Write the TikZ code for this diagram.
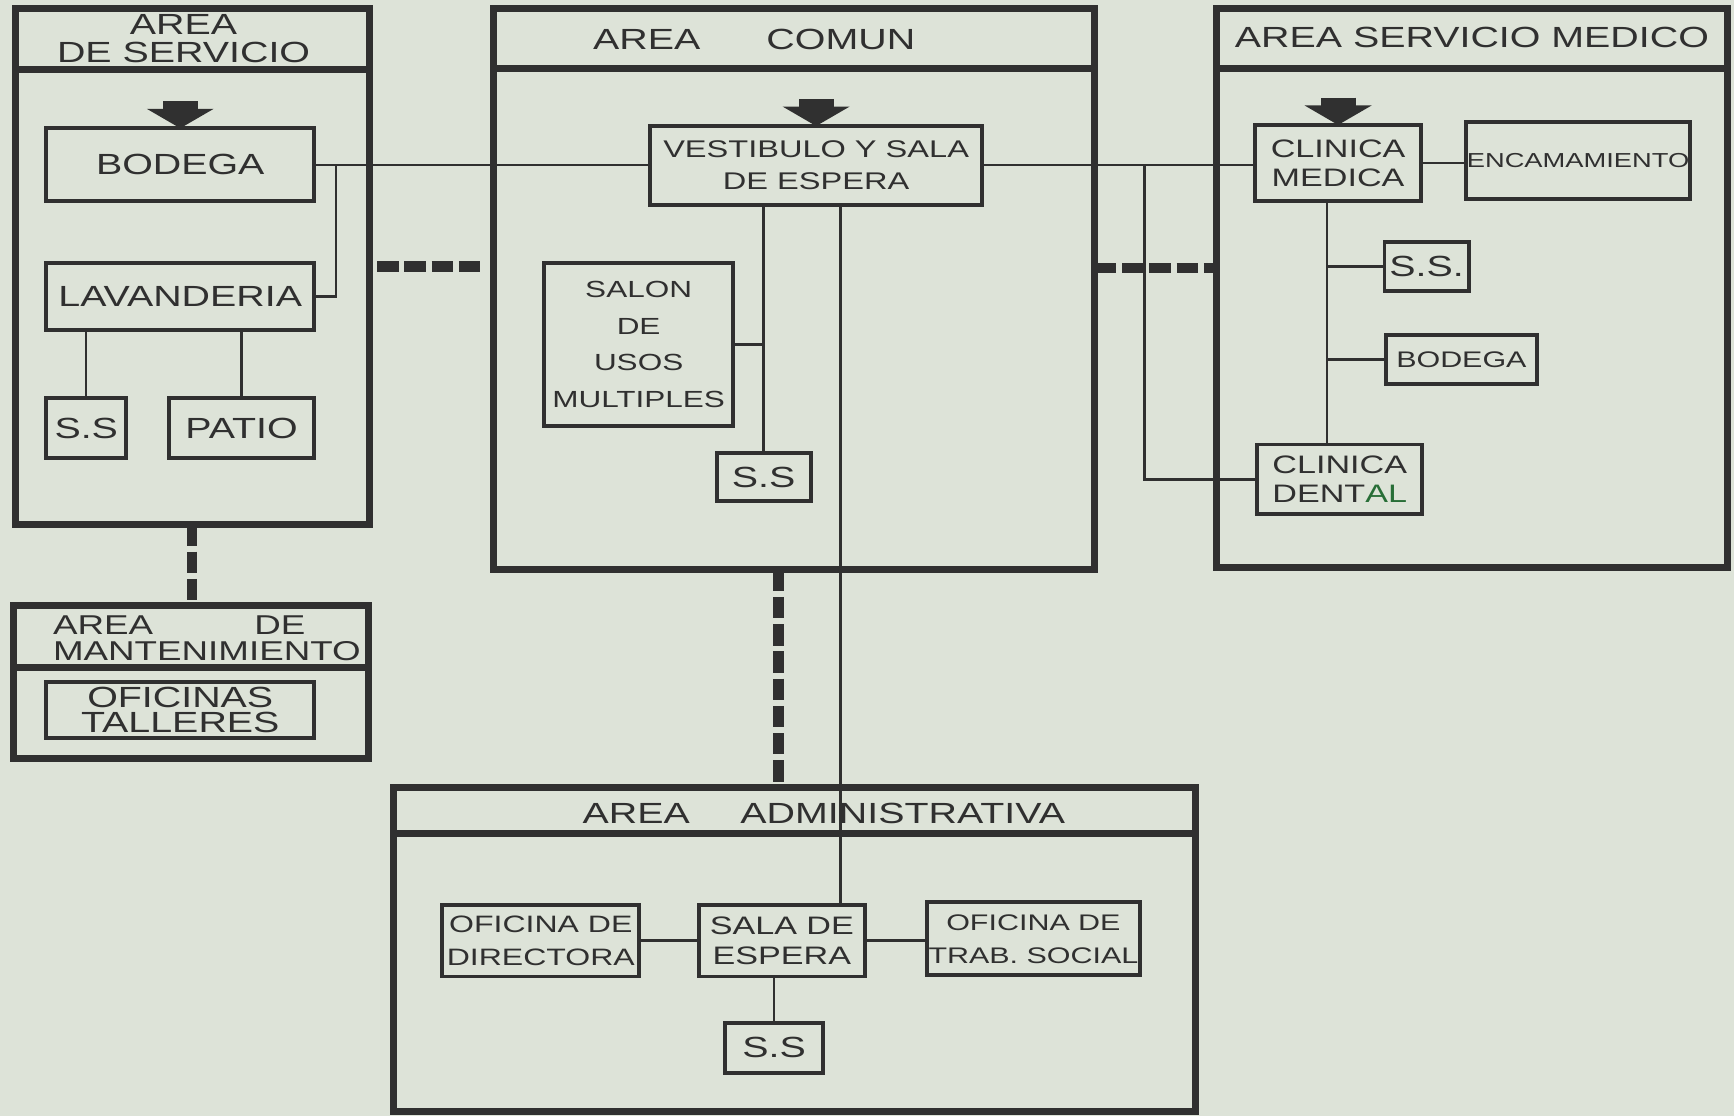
\documentclass[tikz,border=0pt]{standalone}
\usepackage{fontspec}
\setmainfont[FakeStretch=1.35]{Liberation Sans}
\usetikzlibrary{arrows.meta}
\definecolor{paper}{RGB}{221,227,216}
\definecolor{ink}{RGB}{48,48,48}
\definecolor{marker}{RGB}{40,110,55}

\begin{document}
\begin{tikzpicture}[
    x=0.01cm, y=-0.01cm,
    every node/.style={inner sep=0pt, outer sep=0pt, align=center, text=ink, font=\fontsize{7.5}{8.5}\selectfont},
    area/.style={draw=ink, line width=1.8pt},
    room/.style={draw=ink, line width=1pt},
    link/.style={draw=ink, line width=0.6pt},
    dashlink/.style={draw=ink, line width=2.6pt, dash pattern=on 5.5pt off 1.5pt},
    entry/.style={draw=ink, line width=9pt, -{Triangle[width=17pt,length=5pt]}}
]

\path[use as bounding box, fill=paper] (0,0) rectangle (1568,1009);

\node[area, minimum width=3.2cm, minimum height=4.66cm] (servicio) at (174,241) {};
\node[area, minimum width=5.44cm, minimum height=5.07cm] (comun) at (718,261.5) {};
\node[area, minimum width=4.62cm, minimum height=5.05cm] (medico) at (1331,260.5) {};
\node[area, minimum width=3.21cm, minimum height=1.38cm] (manten) at (172.5,617) {};
\node[area, minimum width=7.25cm, minimum height=2.93cm] (admin) at (718.5,858.5) {};

\foreach \a/\h in {servicio/0.55cm, comun/0.54cm, medico/0.54cm, manten/0.56cm, admin/0.42cm}
    \draw[area] ([yshift=-\h]\a.north west) -- ([yshift=-\h]\a.north east);

\node[font=\fontsize{7.5}{7}\selectfont] (servicioT) at (166,35) {AREA\\DE SERVICIO};
\node (comunT) at (682,36) {AREA\hspace{17pt}COMUN};
\node (medicoT) at (1331,34) {AREA SERVICIO MEDICO};
\node[anchor=west, align=left, font=\fontsize{7}{6.8}\selectfont] (mantenT) at (48,577) {AREA\hspace{26pt}DE\\MANTENIMIENTO};
\node (adminT) at (745,736) {AREA\hspace{13pt}ADMINISTRATIVA};

\node[room, minimum width=2.42cm, minimum height=0.66cm] (bodegaS) at (163,149) {BODEGA};
\node[room, minimum width=2.42cm, minimum height=0.6cm] (lavanderia) at (163,268) {LAVANDERIA};
\node[room, minimum width=0.72cm, minimum height=0.54cm] (ssS) at (78,387) {S.S};
\node[room, minimum width=1.31cm, minimum height=0.54cm] (patio) at (218.5,387) {PATIO};

\node[room, minimum width=3cm, minimum height=0.71cm, font=\fontsize{6.2}{8.2}\selectfont] (vestibulo) at (738,149.5) {VESTIBULO Y SALA\\DE ESPERA};
\node[room, minimum width=1.71cm, minimum height=1.47cm, font=\fontsize{6}{9.4}\selectfont] (salon) at (577.5,311.5) {SALON\\DE\\USOS\\MULTIPLES};
\node[room, minimum width=0.85cm, minimum height=0.43cm] (ssC) at (690.5,431.5) {S.S};

\node[room, minimum width=1.5cm, minimum height=0.69cm, font=\fontsize{6.5}{7.4}\selectfont] (medica) at (1210,147.5) {CLINICA\\MEDICA};
\node[room, minimum width=2.02cm, minimum height=0.7cm, font=\fontsize{5.2}{6}\selectfont] (encam) at (1427,145) {ENCAMAMIENTO};
\node[room, minimum width=0.76cm, minimum height=0.44cm] (ssM) at (1290,241) {S.S.};
\node[room, minimum width=1.37cm, minimum height=0.44cm, font=\fontsize{5.8}{7}\selectfont] (bodegaM) at (1321.5,325) {BODEGA};
\node[room, minimum width=1.49cm, minimum height=0.63cm, font=\fontsize{6.5}{7.4}\selectfont] (dental) at (1211.5,433.5) {CLINICA\\DENT{\color{marker}AL}};

\node[room, minimum width=2.42cm, minimum height=0.5cm, font=\fontsize{7.5}{6.5}\selectfont] (talleres) at (163,642) {OFICINAS\\TALLERES};

\node[room, minimum width=1.78cm, minimum height=0.65cm, font=\fontsize{6.1}{8.5}\selectfont] (directora) at (489,850.5) {OFICINA DE\\DIRECTORA};
\node[room, minimum width=1.5cm, minimum height=0.65cm, font=\fontsize{6.5}{7.6}\selectfont] (espera) at (707,850.5) {SALA DE\\ESPERA};
\node[room, minimum width=1.93cm, minimum height=0.66cm, font=\fontsize{5.8}{8.5}\selectfont] (social) at (934.5,849) {OFICINA DE\\TRAB. SOCIAL};
\node[room, minimum width=0.88cm, minimum height=0.45cm] (ssA) at (700,947.5) {S.S};

\foreach \r in {bodegaS, vestibulo, medica}
    \draw[entry] ([yshift=7pt]\r.north) -- (\r.north);

\coordinate (sj) at (304,149);
\coordinate (mj) at (1035,149.5);
\coordinate (mt) at ([xshift=-1mm]medica.south);

\draw[link] (bodegaS.east) -- (bodegaS.east -| vestibulo.west);
\draw[link] (sj) |- (lavanderia.east);
\draw[link] (ssS.north) -- (ssS.north |- lavanderia.south);
\draw[link] (patio.north) -- (patio.north |- lavanderia.south);

\draw[link] (ssC.north) -- (ssC.north |- vestibulo.south);
\draw[link] (salon.east) -- (salon.east -| ssC.north);
\draw[link] ([xshift=5.3mm]espera.north) -- ([xshift=5.3mm]espera.north |- vestibulo.south);

\draw[link] (vestibulo.east) -- (vestibulo.east -| medica.west);
\draw[link] (mj) |- (dental.west);
\draw[link] (medica.east) -- (medica.east -| encam.west);
\draw[link] (mt) -- (mt |- dental.north);
\draw[link] (ssM.west) -- (ssM.west -| mt);
\draw[link] (bodegaM.west) -- (bodegaM.west -| mt);

\draw[link] (directora.east) -- (directora.east -| espera.west);
\draw[link] (espera.east) -- (espera.east -| social.west);
\draw[link] (ssA.north) -- (ssA.north |- espera.south);

\draw[dashlink, shorten <=2pt, shorten >=2pt] (servicio.east) -- (servicio.east -| comun.west);
\draw[dashlink] ([yshift=1.9mm]comun.east) -- ([yshift=1.9mm]comun.east -| medico.west);
\draw[dashlink] (servicio.south) -- (servicio.south |- manten.north);
\draw[dashlink] ([xshift=-1.4mm]comun.south) -- ([xshift=-1.4mm]comun.south |- admin.north);

\end{tikzpicture}
\end{document}
